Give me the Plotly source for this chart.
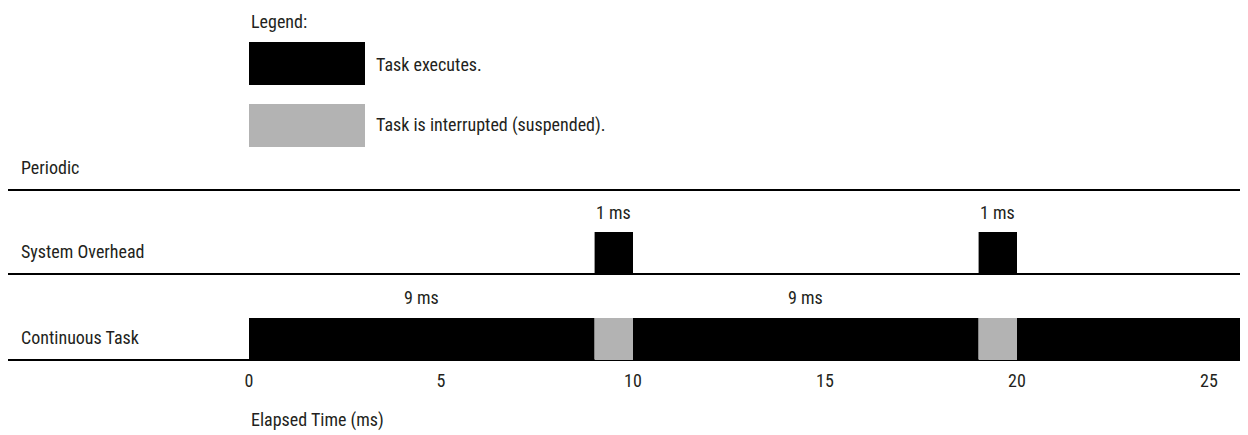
import plotly.graph_objects as go

# data
cont_start = [0, 9, 10, 19, 20]
cont_dur = [9, 1, 9, 1, 7]
cont_state = ['run', 'int', 'run', 'int', 'run']
ovh_start = [9, 19]
ovh_dur = [1, 1]
ovh_state = ['run', 'run']
cont_labels = ['9 ms', '', '9 ms', '', '']
ovh_labels = ['1 ms', '1 ms']
row_names = ['Continuous Task', 'System Overhead']
tick_vals = [0, 5, 10, 15, 20, 25]
tick_text = ['0', '5', '10', '15', '20', '25']

# page body has an 8px margin, so the figure fills the rest of the window
W, H = 1240, 427
FONT = 'Roboto Condensed, DejaVu Sans Condensed, sans-serif'
TXT = '#231f20'
colors = {'run': 'black', 'int': '#b3b3b3'}

# pixel helpers (figure pixels)
def px(x):
    return x / W

def py(y):
    return 1 - y / H

X0_PX = 241       # where t = 0 sits
PX_PER_MS = 38.4
PLOT_BOTTOM = 360
ROW_PX = 86
ROW0_PX = 331
def yv(ypix):
    return (ROW0_PX - ypix) / ROW_PX

BAR_W = 42 / ROW_PX

fig = go.Figure()
for row, starts, durs, states in [(0, cont_start, cont_dur, cont_state),
                                  (1, ovh_start, ovh_dur, ovh_state)]:
    fig.add_trace(go.Bar(
        orientation='h', y=[row] * len(starts), x=durs, base=starts,
        width=BAR_W, marker=dict(color=[colors[s] for s in states], line=dict(width=0)),
        showlegend=False, hoverinfo='skip'))

ann = []
for s, d, t in zip(cont_start, cont_dur, cont_labels):
    if t:
        ann.append(dict(x=s + d / 2, y=yv(289), text=t, xref='x', yref='y'))
for s, d, t in zip(ovh_start, ovh_dur, ovh_labels):
    ann.append(dict(x=s + d / 2, y=yv(204), text=t, xref='x', yref='y'))

ann.append(dict(x=px(11), y=yv(329), text=row_names[0], xref='paper', yref='y', xanchor='left'))
ann.append(dict(x=px(11), y=yv(243), text=row_names[1], xref='paper', yref='y', xanchor='left'))
ann.append(dict(x=px(11), y=py(159), text='Periodic', xref='paper', yref='paper', xanchor='left'))
ann.append(dict(x=px(241), y=py(412), text='Elapsed Time (ms)', xref='paper', yref='paper', xanchor='left'))
ann.append(dict(x=px(241), y=py(13), text='Legend:', xref='paper', yref='paper', xanchor='left'))
ann.append(dict(x=px(366), y=py(56), text='Task executes.', xref='paper', yref='paper', xanchor='left'))
ann.append(dict(x=px(366), y=py(117), text='Task is interrupted (suspended).', xref='paper', yref='paper', xanchor='left'))
for a in ann:
    a.update(showarrow=False, yanchor='middle')

shapes = []
for ypix in [182, 266, 352]:
    shapes.append(dict(type='line', xref='paper', yref='paper', x0=0, x1=1,
                       y0=py(ypix), y1=py(ypix), line=dict(color='black', width=2), layer='below'))
shapes.append(dict(type='rect', xref='paper', yref='paper', x0=px(241), x1=px(357),
                   y0=py(77), y1=py(34), fillcolor=colors['run'], line=dict(width=0)))
shapes.append(dict(type='rect', xref='paper', yref='paper', x0=px(241), x1=px(357),
                   y0=py(139), y1=py(96), fillcolor=colors['int'], line=dict(width=0)))

fig.update_layout(
    width=W, height=H, margin=dict(l=0, r=0, t=0, b=0),
    paper_bgcolor='white', plot_bgcolor='white',
    font=dict(family=FONT, size=18, color=TXT),
    annotations=ann, shapes=shapes, barmode='overlay',
    xaxis=dict(range=[-X0_PX / PX_PER_MS, (W - X0_PX) / PX_PER_MS], tickvals=tick_vals, ticktext=tick_text,
               showgrid=False, zeroline=False, showline=False, ticks='',
               tickfont=dict(size=18, color=TXT)),
    yaxis=dict(range=[yv(PLOT_BOTTOM), yv(0)], domain=[py(PLOT_BOTTOM), 1],
               showgrid=False, zeroline=False, showticklabels=False, ticks=''),
)

fig.write_html('out.html')
